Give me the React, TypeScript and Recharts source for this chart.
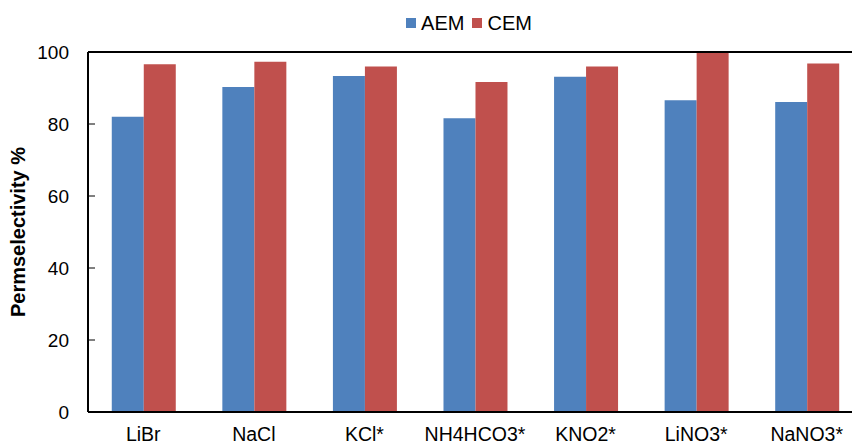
import React from "react";
import {
  BarChart,
  Bar,
  XAxis,
  YAxis,
  Legend,
  ReferenceLine,
} from "recharts";

// membrane permselectivity per salt solution
const SALTS = ["LiBr", "NaCl", "KCl*", "NH4HCO3*", "KNO2*", "LiNO3*", "NaNO3*"];
const AEM = [82.0, 90.3, 93.3, 81.6, 93.1, 86.6, 86.1];
const CEM = [96.6, 97.3, 96.0, 91.7, 96.0, 100.0, 96.8];
const Y_TICKS = [0, 20, 40, 60, 80, 100];
const BOUNDARY_TICKS = [1, 2, 3, 4, 5, 6];

const BLUE = "#4F81BD";
const RED = "#C0504D";
const FONT = '"Liberation Sans", Arial, sans-serif';

const data = SALTS.map((name, i) => ({ name, AEM: AEM[i], CEM: CEM[i] }));

const renderLegend = () => (
  <div
    style={{
      display: "flex",
      justifyContent: "center",
      alignItems: "center",
      height: 30,
      fontFamily: FONT,
      fontSize: 20,
      color: "#000",
    }}
  >
    {[
      { label: "AEM", color: BLUE },
      { label: "CEM", color: RED },
    ].map((item) => (
      <div
        key={item.label}
        style={{ display: "flex", alignItems: "center", marginRight: 8 }}
      >
        <span
          style={{
            width: 10,
            height: 10,
            background: item.color,
            marginRight: 5,
            display: "inline-block",
          }}
        />
        <span>{item.label}</span>
      </div>
    ))}
  </div>
);

export default function App() {
  return (
    <div style={{ width: 852, height: 445, overflow: "hidden", background: "#fff" }}>
      <style>{"body{margin:0}"}</style>
      <BarChart
        width={870}
        height={445}
        data={data}
        margin={{ top: 22, right: 8, left: 0, bottom: 0 }}
        barCategoryGap="21.5%"
        barGap={0}
      >
        <Legend
          verticalAlign="top"
          content={renderLegend}
          wrapperStyle={{ top: 8, left: 86, width: 774 }}
        />
        {/* tick marks on category boundaries */}
        <XAxis
          xAxisId="bounds"
          type="number"
          domain={[0, 7]}
          ticks={BOUNDARY_TICKS}
          allowDataOverflow
          tick={false}
          tickSize={-7}
          tickLine={{ stroke: "#000", strokeWidth: 1 }}
          axisLine={false}
          height={0}
        />
        <XAxis
          xAxisId="cat"
          dataKey="name"
          height={33}
          tickLine={false}
          tickSize={0}
          tickMargin={15}
          axisLine={{ stroke: "#000", strokeWidth: 2 }}
          tick={{ fill: "#000", fontSize: 19.5, fontFamily: FONT }}
          interval={0}
        />
        <YAxis
          width={88}
          domain={[0, 100]}
          ticks={Y_TICKS}
          allowDataOverflow
          tickSize={-7}
          tickMargin={26}
          tickLine={{ stroke: "#000", strokeWidth: 1 }}
          axisLine={{ stroke: "#000", strokeWidth: 2 }}
          tick={{ fill: "#000", fontSize: 19, fontFamily: FONT }}
          label={{
            value: "Permselectivity %",
            angle: -90,
            position: "center",
            dx: -26,
            style: { fontFamily: FONT, fontSize: 20, fontWeight: "bold", fill: "#000" },
          }}
        />
        <ReferenceLine
          xAxisId="cat"
          y={100}
          stroke="#000"
          strokeWidth={2}
        />
        <Bar xAxisId="cat" dataKey="AEM" fill={BLUE} isAnimationActive={false} />
        <Bar xAxisId="cat" dataKey="CEM" fill={RED} isAnimationActive={false} />
      </BarChart>
    </div>
  );
}
